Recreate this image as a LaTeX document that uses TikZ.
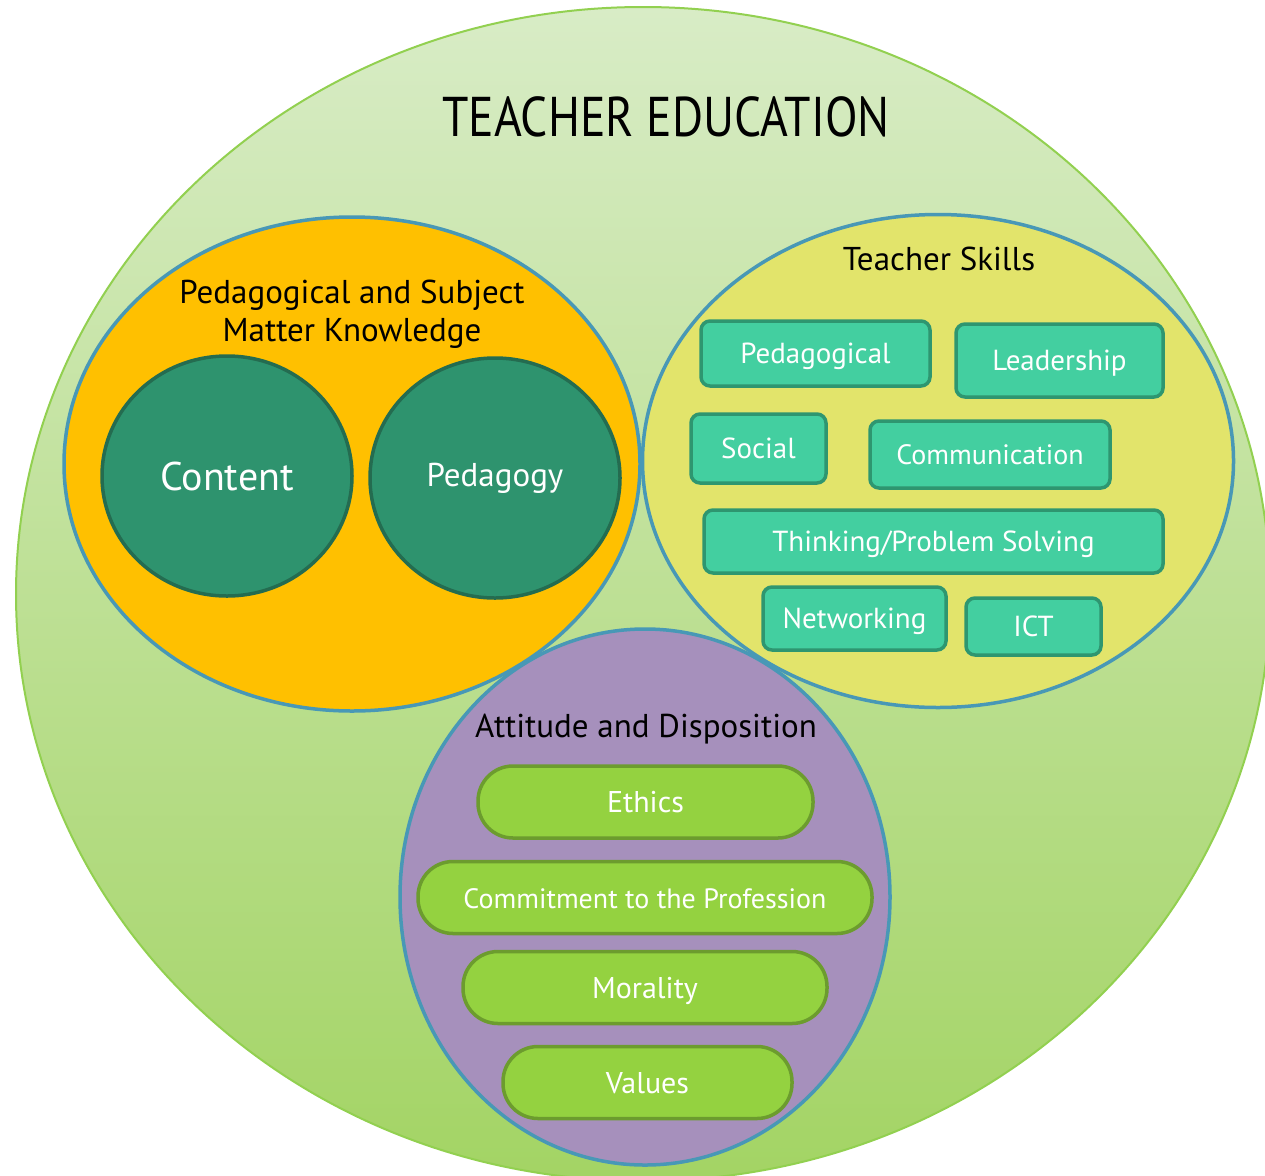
\documentclass[tikz,border=0pt]{standalone}
\usepackage{fontspec}
\setmainfont{PT Sans}
\newfontfamily\titlefont{PT Sans}[FakeStretch=0.85]
\usetikzlibrary{shapes.geometric}
\definecolor{bigtop}{RGB}{216,236,198}
\definecolor{bigbot}{RGB}{163,212,100}
\definecolor{bigline}{RGB}{146,208,80}
\definecolor{blueline}{RGB}{72,152,182}
\definecolor{orangefill}{RGB}{255,192,0}
\definecolor{dgreen}{RGB}{46,147,110}
\definecolor{dgreenline}{RGB}{36,108,80}
\definecolor{yellowfill}{RGB}{226,228,107}
\definecolor{tealfill}{RGB}{67,207,160}
\definecolor{tealline}{RGB}{46,150,112}
\definecolor{purplefill}{RGB}{166,144,188}
\definecolor{pillfill}{RGB}{148,210,64}
\definecolor{pillline}{RGB}{108,156,46}
\tikzset{
  group/.style={ellipse, draw=blueline, line width=3.5pt, inner sep=0pt},
  inner/.style={ellipse, draw=dgreenline, fill=dgreen, line width=3.5pt, inner sep=0pt,
    minimum width=250pt, minimum height=240pt, text=white},
  skillbox/.style={rectangle, rounded corners=9pt, draw=tealline, fill=tealfill, line width=3.5pt,
    inner sep=0pt, text=white, text height=20pt, text depth=0pt, font=\fontsize{29}{32}\selectfont},
  pill/.style={rectangle, rounded corners=35pt, draw=pillline, fill=pillfill, line width=3.5pt,
    inner sep=0pt, minimum height=72pt, text=white, text height=21pt, text depth=0pt, font=\fontsize{30}{32}\selectfont},
  heading/.style={align=center, text=black, font=\fontsize{33}{38}\selectfont},
}
\begin{document}
\begin{tikzpicture}[x=1pt,y=-1pt]
\useasboundingbox (0,0) rectangle (1265,1175);
\begin{scope}
\clip (0,0) rectangle (1265,1175);
\node[ellipse, draw=bigline, line width=2pt, top color=bigtop, bottom color=bigbot,
  minimum width=1254pt, minimum height=1174pt, inner sep=0pt] (big) at (643,594) {};
\end{scope}
\node[font=\titlefont\fontsize{56}{60}\selectfont] (title) at (666,117) {TEACHER EDUCATION};

% Pedagogical and Subject Matter Knowledge
\node[group, fill=orangefill, minimum width=576pt, minimum height=494pt] (pmk) at (352,464) {};
\node[heading] (pmkt) at (352,314) {Pedagogical and Subject\\Matter Knowledge};
\node[inner, font=\fontsize{40}{42}\selectfont] (content) at (227,476) {Content};
\node[inner, font=\fontsize{33}{35}\selectfont] (pedagogy) at (495,478) {Pedagogy};

% Teacher Skills
\node[group, fill=yellowfill, minimum width=591pt, minimum height=493pt] (skills) at (938,461) {};
\node[heading] (skillst) at (939,259) {Teacher Skills};
\node[skillbox, minimum width=229pt, minimum height=65pt] (s1) at (815.5,353.5) {Pedagogical};
\node[skillbox, minimum width=207pt, minimum height=73pt] (s2) at (1059.5,360.5) {Leadership};
\node[skillbox, minimum width=135pt, minimum height=69pt] (s3) at (758.5,448.5) {Social};
\node[skillbox, minimum width=240pt, minimum height=67pt, font=\fontsize{28}{30}\selectfont] (s4) at (990,454.5) {Communication};
\node[skillbox, minimum width=459pt, minimum height=63pt] (s5) at (933.5,541.5) {Thinking/Problem Solving};
\node[skillbox, minimum width=183pt, minimum height=63pt] (s6) at (854.5,618.5) {Networking};
\node[skillbox, minimum width=135pt, minimum height=57pt] (s7) at (1033.5,626.5) {ICT};

% Attitude and Disposition
\node[group, fill=purplefill, minimum width=490pt, minimum height=536pt] (att) at (645,897) {};
\node[heading] (attt) at (646,729) {Attitude and Disposition};
\node[pill, minimum width=335pt] (p1) at (645.5,802) {Ethics};
\node[pill, minimum width=454pt, font=\fontsize{28}{30}\selectfont] (p2) at (645,897.5) {Commitment to the Profession};
\node[pill, minimum width=364pt] (p3) at (645,987.5) {Morality};
\node[pill, minimum width=289pt] (p4) at (647.5,1082.5) {Values};
\end{tikzpicture}
\end{document}
